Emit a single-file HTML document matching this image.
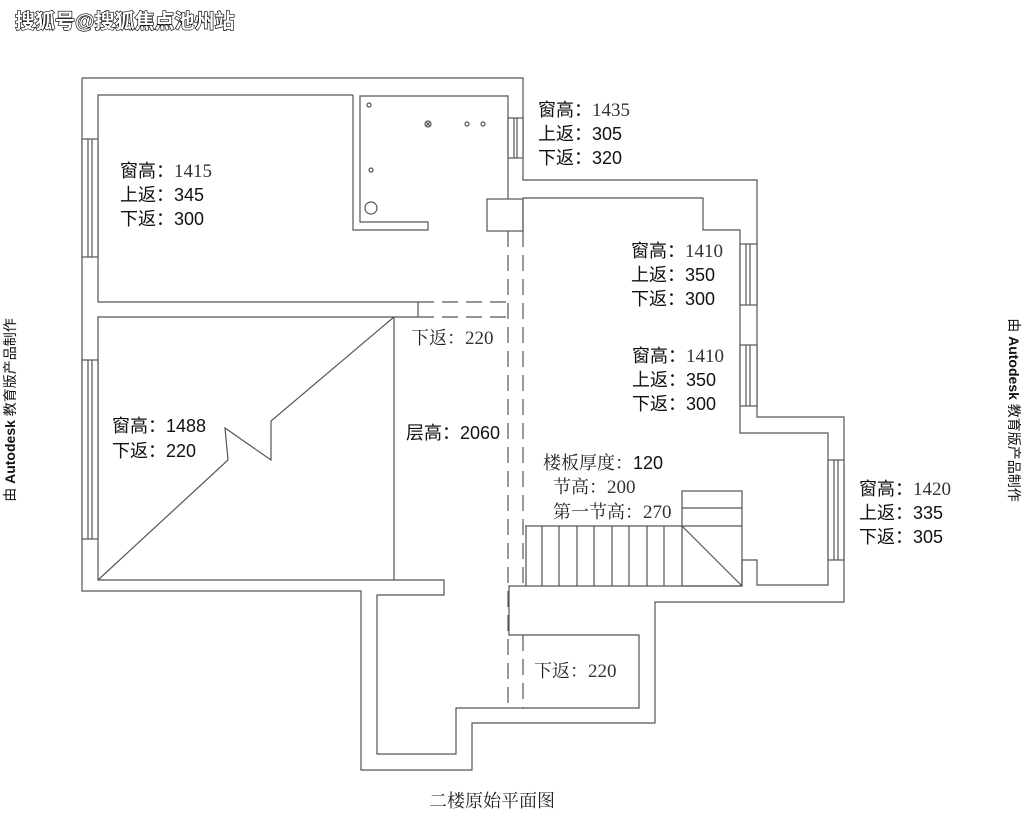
<!DOCTYPE html>
<html><head><meta charset="utf-8">
<style>
html,body{margin:0;padding:0;background:#fff;}
body{width:1024px;height:833px;overflow:hidden;}
svg{display:block;}
.s{font-family:"Liberation Sans","Noto Sans CJK SC",sans-serif;font-size:18px;fill:#111;}
.r{font-family:"Liberation Serif","Noto Serif CJK SC",serif;font-size:18px;fill:#222;}
.n{font-family:"Liberation Serif",serif;font-size:19px;fill:#333;}
</style></head>
<body>
<svg width="1024" height="833" viewBox="0 0 1024 833" xmlns="http://www.w3.org/2000/svg">
<g fill="none" stroke="#555" stroke-width="1.2">
<polyline points="82,78 523,78 523,180 757,180 757,417 844,417 844,602 655,602 655,723 472,723 472,770 361,770 361,591 82,591 82,78"/>
<polyline points="353,95 98,95 98,302 418,302"/>
<polyline points="353,95 353,230 428,230 428,222 360,222 360,96 508,96 508,199"/>
<rect x="487" y="199" width="36" height="32"/>
<polyline points="418,302 418,317 98,317 98,580 444,580 444,595 377,595 377,754 456,754 456,708 639,708 639,635 509,635 509,586 742,586"/>
<line x1="394" y1="317" x2="394" y2="580"/>
<polyline points="98,580 228,460 225,428 271,460 271,421 394,317"/>
<polyline points="523,231 523,198 703,198 703,230 740,230 740,433 828,433 828,585 757,585 757,560 742,560 742,586"/>
<rect x="682" y="491" width="60" height="95"/>
<line x1="682" y1="508" x2="742" y2="508"/>
<line x1="525" y1="526" x2="742" y2="526"/>
<line x1="682" y1="526" x2="742" y2="586"/>
<g>
<line x1="526" y1="526" x2="526" y2="586"/><line x1="542" y1="526" x2="542" y2="586"/>
<line x1="559" y1="526" x2="559" y2="586"/><line x1="577" y1="526" x2="577" y2="586"/>
<line x1="594" y1="526" x2="594" y2="586"/><line x1="612" y1="526" x2="612" y2="586"/>
<line x1="629" y1="526" x2="629" y2="586"/><line x1="647" y1="526" x2="647" y2="586"/>
<line x1="664" y1="526" x2="664" y2="586"/>
</g>
<g stroke-dasharray="16,8">
<line x1="508" y1="231" x2="508" y2="708"/>
<line x1="523" y1="231" x2="523" y2="586"/>
<line x1="523" y1="635" x2="523" y2="708"/>
<line x1="418" y1="302" x2="508" y2="302"/>
<line x1="418" y1="317" x2="508" y2="317"/>
</g>
<g>
<rect x="82" y="139" width="16" height="118" fill="#fff"/><line x1="88" y1="139" x2="88" y2="257"/><line x1="92" y1="139" x2="92" y2="257"/>
<rect x="82" y="360" width="16" height="179" fill="#fff"/><line x1="88" y1="360" x2="88" y2="539"/><line x1="92" y1="360" x2="92" y2="539"/>
<rect x="508" y="118" width="15" height="40" fill="#fff"/><line x1="514" y1="118" x2="514" y2="158"/><line x1="517" y1="118" x2="517" y2="158"/>
<rect x="740" y="244" width="17" height="61" fill="#fff"/><line x1="746" y1="244" x2="746" y2="305"/><line x1="750" y1="244" x2="750" y2="305"/>
<rect x="740" y="345" width="17" height="61" fill="#fff"/><line x1="746" y1="345" x2="746" y2="406"/><line x1="750" y1="345" x2="750" y2="406"/>
<rect x="828" y="460" width="16" height="100" fill="#fff"/><line x1="834" y1="460" x2="834" y2="560"/><line x1="838" y1="460" x2="838" y2="560"/>
</g>
<circle cx="369" cy="105" r="2"/><circle cx="371" cy="170" r="2"/><circle cx="371" cy="208" r="6"/>
<circle cx="428" cy="124" r="3"/><line x1="426" y1="122" x2="430" y2="126"/><line x1="430" y1="122" x2="426" y2="126"/>
<circle cx="467" cy="124" r="2"/><circle cx="483" cy="124" r="2"/>
</g>

<text x="120" y="177" class="s">窗高：<tspan class="n">1415</tspan></text>
<text x="120" y="201" class="s">上返：345</text>
<text x="120" y="225" class="s">下返：300</text>

<text x="538" y="116" class="s">窗高：<tspan class="n">1435</tspan></text>
<text x="538" y="140" class="s">上返：305</text>
<text x="538" y="164" class="s">下返：320</text>

<text x="631" y="257" class="s">窗高：<tspan class="n">1410</tspan></text>
<text x="631" y="281" class="s">上返：350</text>
<text x="631" y="305" class="s">下返：300</text>

<text x="632" y="362" class="s">窗高：<tspan class="n">1410</tspan></text>
<text x="632" y="386" class="s">上返：350</text>
<text x="632" y="410" class="s">下返：300</text>

<text x="859" y="495" class="s">窗高：<tspan class="n">1420</tspan></text>
<text x="859" y="519" class="s">上返：335</text>
<text x="859" y="543" class="s">下返：305</text>

<text x="112" y="432" class="s">窗高：1488</text>
<text x="112" y="457" class="s">下返：220</text>

<text x="411" y="344" class="r">下返：<tspan class="n">220</tspan></text>
<text x="406" y="439" class="s">层高：2060</text>
<text x="534" y="677" class="r">下返：<tspan class="n">220</tspan></text>

<text x="543" y="469" class="s"><tspan class="r">楼板厚度：</tspan>120</text>
<text x="553" y="493" class="r">节高：<tspan class="n">200</tspan></text>
<text x="553" y="518" class="r">第一节高：<tspan class="n">270</tspan></text>

<text transform="translate(15,410) rotate(-90)" text-anchor="middle" style="font-family:'Liberation Sans','Noto Sans CJK SC',sans-serif;font-size:14px;fill:#111;">由 <tspan font-weight="bold">Autodesk</tspan> 教育版产品制作</text>
<text transform="translate(1009,410) rotate(90)" text-anchor="middle" style="font-family:'Liberation Sans','Noto Sans CJK SC',sans-serif;font-size:14px;fill:#111;">由 <tspan font-weight="bold">Autodesk</tspan> 教育版产品制作</text>

<text x="492" y="807" text-anchor="middle" style="font-family:'Liberation Serif','Noto Serif CJK SC',serif;font-size:18px;fill:#222;">二楼原始平面图</text>

<text x="15" y="28" style="font-family:'Liberation Sans','Noto Sans CJK SC',sans-serif;font-size:20px;font-weight:bold;fill:#fff;stroke:#000;stroke-width:1.3;paint-order:stroke;">搜狐号@搜狐焦点池州站</text>
</svg>
</body></html>
